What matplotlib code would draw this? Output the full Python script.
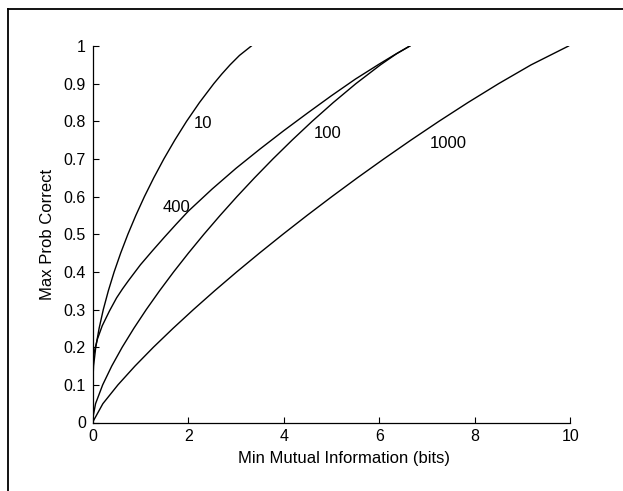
import matplotlib
matplotlib.use("Agg")
import matplotlib.pyplot as plt
from matplotlib.lines import Line2D

plt.rcParams['font.family'] = ['Liberation Sans', 'DejaVu Sans']

# Curve "10"
x10 = [0.0, 0.018, 0.064, 0.134, 0.222, 0.328, 0.449, 0.586, 0.737, 0.903, 1.083,
       1.279, 1.49, 1.719, 1.966, 2.237, 2.536, 2.70, 2.877, 3.074, 3.322]
y10 = [0.10, 0.15, 0.20, 0.25, 0.30, 0.35, 0.40, 0.45, 0.50, 0.55, 0.60,
       0.65, 0.70, 0.75, 0.80, 0.85, 0.90, 0.925, 0.95, 0.975, 1.00]

# Curve "400"
x400 = [0.0, 0.02, 0.05, 0.1, 0.2, 0.35, 0.5, 0.625, 0.75, 0.875, 1.0, 1.25, 1.5, 1.75, 2.0,
        2.5, 3.0, 3.5, 4.0, 4.5, 5.0, 5.5, 6.0, 6.3, 6.64]
y400 = [0.15, 0.178, 0.197, 0.222, 0.257, 0.296, 0.331, 0.355, 0.377, 0.398, 0.419, 0.456,
        0.492, 0.527, 0.561, 0.62, 0.675, 0.726, 0.775, 0.822, 0.868, 0.912, 0.952, 0.975, 1.00]

# Curve "100"
x100 = [0.0, 0.06, 0.209, 0.399, 0.618, 0.861, 1.122, 1.401, 1.695, 2.005, 2.329,
        2.668, 3.021, 3.39, 3.774, 4.176, 4.596, 5.04, 5.512, 6.027, 6.37, 6.644]
y100 = [0.01, 0.05, 0.10, 0.15, 0.20, 0.25, 0.30, 0.35, 0.40, 0.45, 0.50,
        0.55, 0.60, 0.65, 0.70, 0.75, 0.80, 0.85, 0.90, 0.95, 0.98, 1.00]

# Curve "1000"
x1000 = [0.0, 0.213, 0.529, 0.886, 1.272, 1.682, 2.11, 2.555, 3.016, 3.493, 3.984,
         4.489, 5.009, 5.544, 6.096, 6.664, 7.251, 7.861, 8.501, 9.182, 9.966]
y1000 = [0.001, 0.05, 0.10, 0.15, 0.20, 0.25, 0.30, 0.35, 0.40, 0.45, 0.50,
         0.55, 0.60, 0.65, 0.70, 0.75, 0.80, 0.85, 0.90, 0.95, 1.00]

curve_labels = ["10", "400", "100", "1000"]
label_pos = [(2.30, 0.793), (1.75, 0.570), (4.93, 0.767), (7.44, 0.742)]

xticks = [0, 2, 4, 6, 8, 10]
yticks = [0, 0.1, 0.2, 0.3, 0.4, 0.5, 0.6, 0.7, 0.8, 0.9, 1]
yticklabels = ["0", "0.1", "0.2", "0.3", "0.4", "0.5", "0.6", "0.7", "0.8", "0.9", "1"]

fig = plt.figure(figsize=(6.23, 4.91), dpi=100)
ax = fig.add_axes([92.7 / 623, 1 - 422.5 / 491, (570.2 - 92.7) / 623, (422.5 - 46) / 491])

for xs, ys in [(x10, y10), (x400, y400), (x100, y100), (x1000, y1000)]:
    ax.plot(xs, ys, color='black', lw=1.0, solid_joinstyle='round')

for txt, (tx, ty) in zip(curve_labels, label_pos):
    ax.text(tx, ty, txt, ha='center', va='center', fontsize=12)

ax.set_xlim(0, 10)
ax.set_ylim(0, 1)
ax.set_xticks(xticks)
ax.set_xticklabels([str(t) for t in xticks])
ax.set_yticks(yticks)
ax.set_yticklabels(yticklabels)
ax.tick_params(direction='in', length=4, width=0.8, labelsize=11.5, pad=5)
for s in ['top', 'right']:
    ax.spines[s].set_visible(False)
for s in ['left', 'bottom']:
    ax.spines[s].set_linewidth(0.9)

ax.set_xlabel("Min Mutual Information (bits)", fontsize=12, labelpad=5)
ax.xaxis.set_label_coords(0.527, -0.075)
ax.set_ylabel("Max Prob Correct", fontsize=12, labelpad=6)

# page frame
fig.add_artist(Line2D([8 / 623, 8 / 623], [0, 1 - 9 / 491], transform=fig.transFigure,
                      color='black', lw=1.3))
fig.add_artist(Line2D([8 / 623, 1], [1 - 9 / 491, 1 - 9 / 491], transform=fig.transFigure,
                      color='black', lw=1.3))

fig.savefig("out.png", dpi=100)
